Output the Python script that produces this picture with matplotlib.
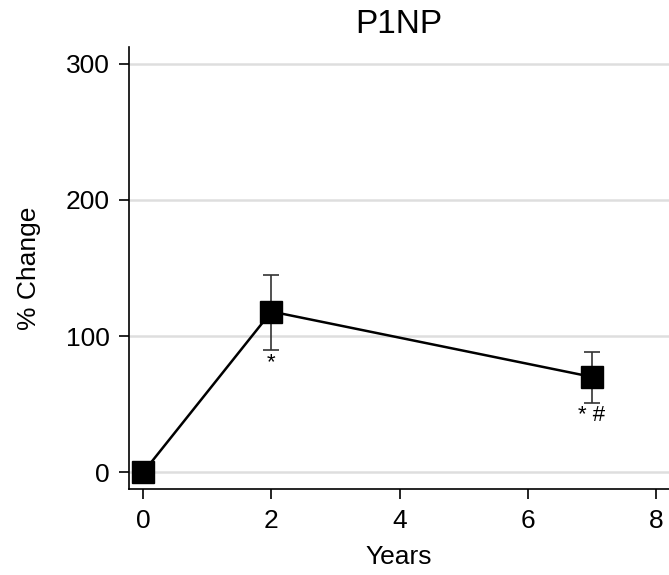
import matplotlib
matplotlib.use("Agg")
import matplotlib.pyplot as plt

plt.rcParams['font.family'] = ['Liberation Sans', 'DejaVu Sans']

# mean % change in P1NP with error bars
years = [0, 2, 7]
pct_change = [0, 118, 70]
err_low = [0, 28, 19]
err_high = [0, 27, 18]
sig_marks = ['', '*', '* #']

fig = plt.figure(figsize=(6.69, 5.75), dpi=100)
ax = fig.add_axes([0.193, 0.149, 0.807, 0.77])

ax.errorbar(years, pct_change, yerr=[err_low, err_high], fmt='none',
            ecolor='#333333', elinewidth=1.2, capsize=6, capthick=1.2, zorder=2)
ax.plot(years, pct_change, color='black', lw=1.8, marker='s', markersize=15.5,
        markerfacecolor='black', zorder=3)

for x, y, lo, s in zip(years, pct_change, err_low, sig_marks):
    if s:
        ax.text(x, y - lo - 1.5, s, ha='center', va='top', fontsize=16)

ax.set_xlim(-0.22, 8.2)
ax.set_ylim(-12.5, 312.5)
ax.set_xticks([0, 2, 4, 6, 8])
ax.set_yticks([0, 100, 200, 300])
ax.yaxis.grid(True, color='#dedede', lw=1.8)
ax.set_axisbelow(True)
for side in ['top', 'right']:
    ax.spines[side].set_visible(False)
ax.tick_params(labelsize=19, length=7, width=1.2, pad=7)
ax.spines['left'].set_linewidth(1.2)
ax.spines['bottom'].set_linewidth(1.2)

ax.set_xlabel('Years', fontsize=19, labelpad=9)
ax.set_ylabel('% Change', fontsize=19, labelpad=18)
ax.set_title('P1NP', fontsize=24, pad=10)

fig.savefig('out.png', dpi=100)
